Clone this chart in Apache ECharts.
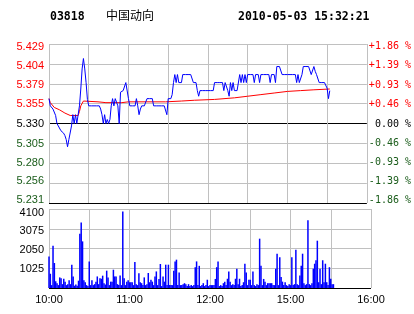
<!DOCTYPE html>
<html><head><meta charset="utf-8">
<script src="https://cdn.jsdelivr.net/npm/echarts@6/dist/echarts.min.js"></script>
<style>html,body{margin:0;padding:0;background:#fff}#c{width:414px;height:314px}</style>
</head><body><div id="c"></div>
<script>
const stockCode = '03818';
const stockName = '中国动向';
const stampText = '2010-05-03 15:32:21';

const priceTickLabels = ['5.231','5.256','5.280','5.305','5.330','5.355','5.379','5.404','5.429'];
const pctTickLabels = ['-1.86 %','-1.39 %','-0.93 %','-0.46 %',' 0.00 %','+0.46 %','+0.93 %','+1.39 %','+1.86 %'];
const volTickLabels = ['', '1025', '2050', '3075', '4100'];
const timeTickLabels = ['10:00','','11:00','','12:00','','15:00','','16:00'];

// minute-by-minute last price (minute 0 = 10:00)
const price = [
5.361,5.352,5.352,5.348,5.348,5.340,5.330,5.327,5.325,5.321,
5.321,5.318,5.315,5.310,5.301,5.310,5.310,5.327,5.341,5.330,
5.341,5.330,5.341,5.352,5.373,5.398,5.411,5.398,5.381,5.360,
5.352,5.352,5.352,5.352,5.352,5.352,5.352,5.352,5.352,5.348,
5.341,5.330,5.341,5.330,5.335,5.330,5.335,5.352,5.361,5.352,
5.361,5.361,5.352,5.330,5.369,5.371,5.371,5.371,5.381,5.381,
5.361,5.352,5.352,5.352,5.352,5.352,5.361,5.352,5.341,5.348,
5.352,5.352,5.352,5.352,5.361,5.361,5.361,5.361,5.361,5.352,
5.352,5.352,5.352,5.352,5.352,5.352,5.352,5.352,5.352,5.341,
5.361,5.361,5.361,5.366,5.381,5.391,5.381,5.391,5.381,5.381,
5.381,5.391,5.391,5.391,5.391,5.391,5.391,5.391,5.391,5.381,
5.381,5.381,5.371,5.364,5.371,5.371,5.371,5.371,5.371,5.371,
5.371,5.371,5.371,5.371,5.371,5.381,5.381,5.381,5.381,5.381,
5.381,5.381,5.371,5.381,5.381,5.371,5.364,5.381,5.371,5.381,
5.371,5.371,5.371,5.371,5.391,5.381,5.391,5.381,5.391,5.381,
5.391,5.391,5.391,5.391,5.391,5.381,5.391,5.391,5.391,5.381,
5.391,5.391,5.391,5.391,5.391,5.391,5.391,5.381,5.391,5.391,
5.391,5.381,5.401,5.401,5.401,5.401,5.391,5.391,5.391,5.391,
5.391,5.391,5.391,5.391,5.391,5.391,5.391,5.381,5.391,5.381,
5.381,5.391,5.401,5.401,5.401,5.401,5.401,5.401,5.391,5.391,
5.401,5.395,5.391,5.391,5.381,5.381,5.381,5.381,5.381,5.381,
5.374,5.361,5.371
];

// average price line, read at key minutes
const avgMinutes = [0,1,4,8,12,16,22,23,24,26,37,43,55,60,88,100,110,125,140,150,160,170,180,190,200,212];
const avgPrices  = [5.361,5.356,5.350,5.347,5.343,5.340,5.340,5.345,5.352,5.358,5.357,5.356,5.356,5.357,5.357,5.358,5.359,5.360,5.362,5.364,5.366,5.368,5.370,5.371,5.372,5.373];

// minute volume
const volume = [
1640,740,150,2195,1297,350,250,150,550,500,
200,480,330,150,200,400,200,1210,600,120,
180,120,380,2820,3400,2420,400,300,150,100,
1380,150,400,150,200,330,600,200,500,480,
640,250,180,900,550,150,330,330,950,600,
600,200,150,650,150,3975,500,150,330,400,
300,300,300,150,1350,200,150,770,300,250,
150,550,150,200,780,300,430,330,150,600,
860,150,470,1245,100,600,330,1210,150,1210,
150,150,150,900,1380,1470,150,800,150,150,
200,250,200,100,200,100,150,100,150,1080,
1380,150,1150,100,150,250,100,150,430,100,
150,150,150,150,470,1080,1380,100,150,100,
250,330,150,480,860,330,150,200,150,480,
1000,200,480,100,150,300,1260,810,150,430,
430,150,860,150,100,200,150,2560,1150,150,
470,330,150,250,250,250,250,150,150,1000,
1780,150,1590,570,330,150,300,150,100,200,
150,1590,150,200,1990,200,150,650,1150,1780,
250,150,200,3510,200,150,250,1000,1260,1440,
2455,300,1000,200,1440,300,1260,300,150,1080,
480,200,200
];

const pMin = 5.2309, pMax = 5.4291, pStep = (pMax - pMin) / 8;
const GRAY = '#c0c0c0';
const RED = '#ff0000', GREEN = '#1a5c1a', BLACK = '#000000';
function tickIndex(v){ return Math.round((v - pMin) / pStep); }

// vertical nudges (px) of price labels, index 0 = bottom
const priceNudge = [-3, -2, -0.5, 0.5, 0.8, 0.5, 1.2, 2, 2.7];
const volNudge = [0, 1, 1.7, 2.4, 3.6];
function padFor(d){ return d >= 0 ? [2*d, 0, 0, 0] : [0, 0, -2*d, 0]; }
function buildRich(nudges, colorFor, font, size){
  const r = {};
  nudges.forEach((d, i) => { r['s' + i] = {color: colorFor(i), fontFamily: font, fontSize: size, padding: padFor(d)}; });
  return r;
}
const sideColor = i => i > 4 ? RED : (i === 4 ? BLACK : GREEN);

const chart = echarts.init(document.getElementById('c'), null, {renderer:'canvas'});
chart.setOption({
  animation: false,
  backgroundColor: '#ffffff',
  grid: [
    {left: 49, right: 43, top: 44, height: 159, show: false},
    {left: 49, right: 43, top: 209, height: 79, show: false}
  ],
  graphic: [
    {type:'text', left: 50, top: 11, style:{text: stockCode, font: 'bold 11.5px "DejaVu Sans Mono"', fill: '#000'}},
    {type:'text', left: 106, top: 9, style:{text: stockName, font: '12px "Noto Sans CJK SC"', fill: '#000'}},
    {type:'text', left: 238, top: 11, style:{text: stampText, font: 'bold 11.5px "DejaVu Sans Mono"', fill: '#000'}}
  ],
  xAxis: [
    {type:'value', gridIndex:0, min:0, max:240, interval:30,
     axisLine:{show:false}, axisTick:{show:false}, axisLabel:{show:false},
     splitLine:{show:true, lineStyle:{color:GRAY, width:1}}},
    {type:'value', gridIndex:1, min:0, max:240, interval:30,
     axisLine:{show:false}, axisTick:{show:false},
     axisLabel:{show:true, margin:6, color:'#000', fontFamily:'Liberation Sans', fontSize:11,
       formatter: v => timeTickLabels[Math.round(v/30)] || ''},
     splitLine:{show:true, lineStyle:{color:GRAY, width:1}}}
  ],
  yAxis: [
    {type:'value', gridIndex:0, min:pMin, max:pMax, interval:pStep, position:'left',
     axisLine:{show:false}, axisTick:{show:false},
     axisLabel:{margin:5, fontFamily:'Liberation Sans', fontSize:11,
       formatter: v => { const i = tickIndex(v); return '{s' + i + '|' + priceTickLabels[i] + '}'; },
       rich: buildRich(priceNudge, sideColor, 'Liberation Sans', 11)},
     splitLine:{show:true, lineStyle:{color:[BLACK,GRAY,GRAY,GRAY,BLACK,GRAY,GRAY,GRAY,GRAY], width:1}}},
    {type:'value', gridIndex:0, min:pMin, max:pMax, interval:pStep, position:'right',
     axisLine:{show:false}, axisTick:{show:false}, splitLine:{show:false},
     axisLabel:{margin:2, fontFamily:'DejaVu Sans Mono', fontSize:10,
       formatter: v => { const i = tickIndex(v); return '{s' + i + '|' + pctTickLabels[i] + '}'; },
       rich: buildRich(priceNudge, sideColor, 'DejaVu Sans Mono', 10)}},
    {type:'value', gridIndex:1, min:0, max:4100, interval:1025, position:'left',
     axisLine:{show:false}, axisTick:{show:false},
     axisLabel:{margin:5, fontFamily:'Liberation Sans', fontSize:11,
       formatter: v => { const i = Math.round(v/1025); return volTickLabels[i] ? '{s' + i + '|' + volTickLabels[i] + '}' : ''; },
       rich: buildRich(volNudge, () => BLACK, 'Liberation Sans', 11)},
     splitLine:{show:true, lineStyle:{color:[BLACK,GRAY,GRAY,GRAY,GRAY], width:1}}}
  ],
  series: [
    {type:'line', xAxisIndex:0, yAxisIndex:0, showSymbol:false, symbol:'none',
     lineStyle:{color:'#ff0000', width:1}, data: avgMinutes.map((m,i)=>[m, avgPrices[i]]), z:3},
    {type:'line', xAxisIndex:0, yAxisIndex:0, showSymbol:false, symbol:'none',
     lineStyle:{color:'#0000ff', width:1}, data: price.map((p,i)=>[i,p]), z:4},
    {type:'bar', xAxisIndex:1, yAxisIndex:2, barWidth:1.5,
     itemStyle:{color:'#0000ff'}, data: volume.map((v,i)=>[i,v])}
  ]
});
</script></body></html>
